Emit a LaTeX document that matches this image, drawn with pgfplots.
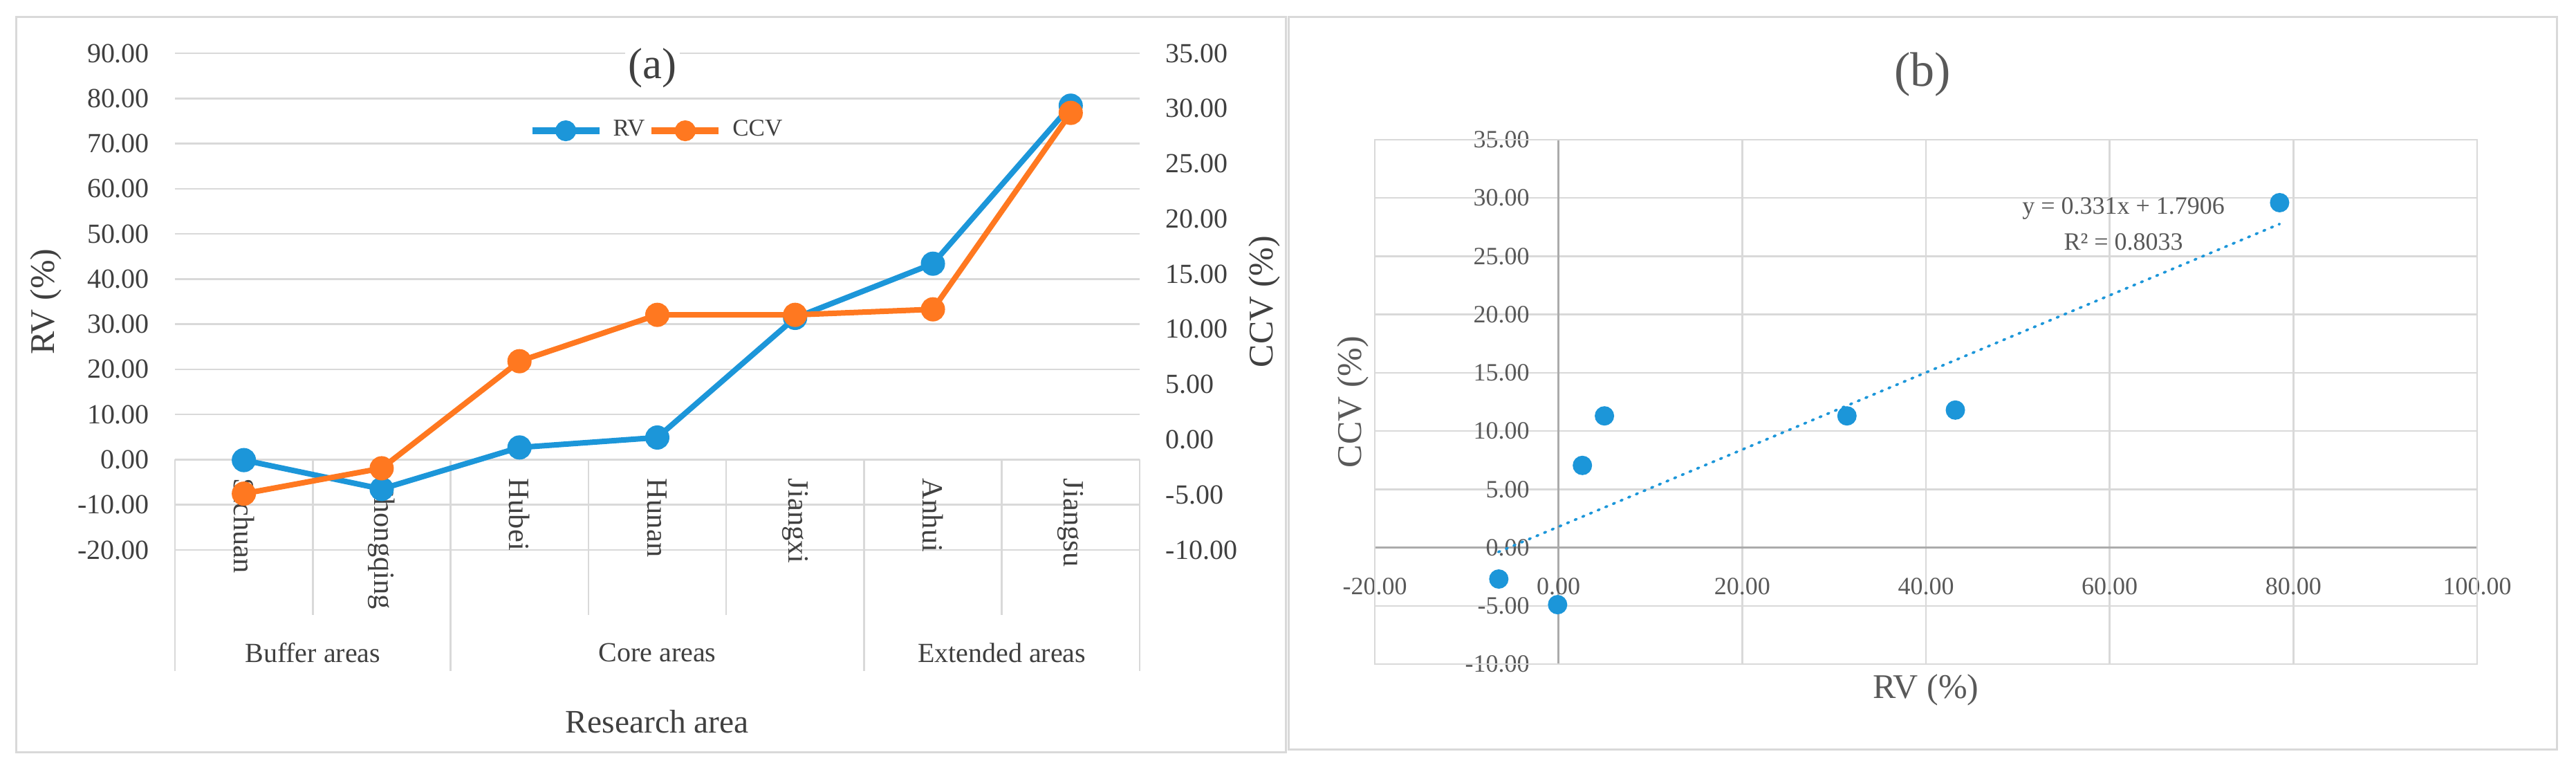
\documentclass[border=0pt]{standalone}
\usepackage{fontspec}
\setmainfont{Liberation Serif}
\usepackage{pgfplots}
\pgfplotsset{compat=1.18}

\definecolor{rvblue}{RGB}{28,150,217}
\definecolor{ccvorange}{RGB}{255,120,32}
\definecolor{gridgray}{RGB}{217,217,217}
\definecolor{zerogray}{RGB}{171,171,171}
\definecolor{txta}{RGB}{64,64,64}
\definecolor{txtb}{RGB}{89,89,89}

\newcommand{\fs}[1]{\fontsize{#1}{#1}\selectfont}

\pgfplotsset{
  numfmt/.style={
    /pgf/number format/fixed,
    /pgf/number format/fixed zerofill,
    /pgf/number format/precision=2,
    /pgf/number format/assume math mode=true},
  rvline/.style={rvblue, line width=1.6pt, mark=*, mark size=2.7pt},
  ccvline/.style={ccvorange, line width=1.6pt, mark=*, mark size=2.7pt},
}

\begin{document}
\begin{tikzpicture}
\useasboundingbox (0,0) rectangle (745pt,223pt);
% panel frames
\draw[gridgray, line width=0.6pt] (4.6pt,5.6pt) rectangle (371.8pt,218.2pt);
\draw[gridgray, line width=0.6pt] (372.6pt,6.4pt) rectangle (739.4pt,218.2pt);

% ---------- (a) left axis: RV ----------
\begin{axis}[
  at={(50.6pt,64pt)}, anchor=south west, scale only axis,
  width=279pt, height=143.6pt,
  xmin=-0.5, xmax=6.5, ymin=-20, ymax=90,
  xtick=\empty, ytick={-20,-10,...,90},
  ymajorgrids, grid style={gridgray, line width=0.5pt},
  axis line style={draw=none}, major tick length=0pt,
  numfmt,
  yticklabel style={font=\fs{8}, text=txta, inner sep=0pt, anchor=east, xshift=-7.2pt},
  clip=false,
  legend style={at={(rel axis cs:0.5,0.844)}, anchor=center, draw=none, fill=none,
    legend columns=-1, font=\fs{7}, text=txta, nodes={inner sep=1pt},
    /tikz/every odd column/.style={column sep=2pt}},
  legend image code/.code={\draw[mark repeat=2,mark phase=2,#1,line width=2pt,mark size=2pt] plot coordinates {(0pt,0pt) (9.7pt,0pt) (19.4pt,0pt)};},
]
% category labels and separators
\pgfplotsinvokeforeach{0.5,2.5,3.5,5.5}{
  \draw[gridgray, line width=0.5pt] (axis cs:#1,0) -- ([yshift=-45pt]axis cs:#1,0);
}
\pgfplotsinvokeforeach{-0.5,1.5,4.5,6.5}{
  \draw[gridgray, line width=0.5pt] (axis cs:#1,0) -- ([yshift=-61.2pt]axis cs:#1,0);
}
\node[rotate=-90, anchor=west, inner sep=0pt, font=\fs{8.5}, text=txta] at ([yshift=-5.3pt]axis cs:0,0) {Sichuan};
\node[rotate=-90, anchor=west, inner sep=0pt, font=\fs{8.5}, text=txta] at ([yshift=-5.3pt]axis cs:1,0) {Chongqing};
\node[rotate=-90, anchor=west, inner sep=0pt, font=\fs{8.5}, text=txta] at ([yshift=-5.3pt]axis cs:2,0) {Hubei};
\node[rotate=-90, anchor=west, inner sep=0pt, font=\fs{8.5}, text=txta] at ([yshift=-5.3pt]axis cs:3,0) {Hunan};
\node[rotate=-90, anchor=west, inner sep=0pt, font=\fs{8.5}, text=txta] at ([yshift=-5.3pt]axis cs:4,0) {Jiangxi};
\node[rotate=-90, anchor=west, inner sep=0pt, font=\fs{8.5}, text=txta] at ([yshift=-5.3pt]axis cs:5,0) {Anhui};
\node[rotate=-90, anchor=west, inner sep=0pt, font=\fs{8.5}, text=txta] at ([yshift=-5.3pt]axis cs:6,0) {Jiangsu};
\node[font=\fs{8}, text=txta] at ([yshift=-55.8pt]axis cs:0.5,0) {Buffer areas};
\node[font=\fs{8}, text=txta] at ([yshift=-55.8pt]axis cs:3,0) {Core areas};
\node[font=\fs{8}, text=txta] at ([yshift=-55.8pt]axis cs:5.5,0) {Extended areas};
\node[font=\fs{9.5}, text=txta] at ([yshift=-49.7pt]rel axis cs:0.5,0) {Research area};
\node[rotate=90, font=\fs{10}, text=txta] at ([xshift=-37.4pt]rel axis cs:0,0.5) {RV (\%)};
\node[font=\fs{12.6}, text=txta, fill=white, inner sep=1pt] at (rel axis cs:0.495,0.971) {(a)};

\addplot[rvline] coordinates {(0,-0.1) (1,-6.5) (2,2.7) (3,4.9) (4,31.4) (5,43.4) (6,78.4)};
\addlegendentry{RV}
\addlegendimage{ccvline}
\addlegendentry{CCV}
\end{axis}

% ---------- (a) right axis: CCV ----------
\begin{axis}[
  at={(50.6pt,64pt)}, anchor=south west, scale only axis,
  width=279pt, height=143.6pt,
  xmin=-0.5, xmax=6.5, ymin=-10, ymax=35,
  xtick=\empty, ytick={-10,-5,...,35},
  axis line style={draw=none}, major tick length=0pt,
  yticklabel pos=right,
  numfmt,
  yticklabel style={font=\fs{8}, text=txta, inner sep=0pt, anchor=west, xshift=7.4pt},
  clip=false,
]
\node[rotate=90, font=\fs{10}, text=txta] at ([xshift=36.2pt]rel axis cs:1,0.5) {CCV (\%)};
\addplot[ccvline] coordinates {(0,-4.9) (1,-2.6) (2,7.1) (3,11.3) (4,11.3) (5,11.8) (6,29.6)};
\end{axis}

% ---------- (b) scatter ----------
\begin{axis}[
  at={(397.6pt,31pt)}, anchor=south west, scale only axis,
  width=318.8pt, height=151.6pt,
  xmin=-20, xmax=100, ymin=-10, ymax=35,
  xtick={-20,0,...,100}, ytick={-10,-5,...,35},
  axis lines=middle, axis line style={-, draw=zerogray, line width=0.5pt},
  grid=major, grid style={gridgray, line width=0.5pt},
  hide obscured x ticks=false, hide obscured y ticks=false,
  major tick length=0pt,
  numfmt,
  xticklabel style={font=\fs{7.2}, text=txtb, inner sep=0pt, anchor=north, yshift=-8.6pt},
  yticklabel style={font=\fs{7.2}, text=txtb, inner sep=0pt, anchor=east, xshift=-8.2pt},
  clip=false,
]
\draw[gridgray, line width=0.5pt] (rel axis cs:0,0) rectangle (rel axis cs:1,1);
\node[font=\fs{14}, text=txtb] at ([yshift=18.8pt]rel axis cs:0.497,1) {(b)};
\node[font=\fs{10}, text=txtb] at ([yshift=-7.4pt]rel axis cs:0.5,0) {RV (\%)};
\node[rotate=90, font=\fs{10}, text=txtb] at ([xshift=-6.4pt]rel axis cs:0,0.5) {CCV (\%)};
\node[font=\fs{7.2}, text=txtb] at (axis cs:61.5,29.1) {y = 0.331x + 1.7906};
\node[font=\fs{7.2}, text=txtb] at (axis cs:61.5,26.2) {R² = 0.8033};

\addplot[rvblue, line width=0.75pt, line cap=round, dash pattern=on 0.5pt off 1.9pt] coordinates {(-6.55,-0.38) (78.5,27.77)};
\addplot[only marks, mark=*, mark size=2.6pt, rvblue] coordinates {(-0.1,-4.9) (-6.5,-2.7) (2.6,7.05) (5.0,11.3) (31.4,11.3) (43.2,11.8) (78.5,29.6)};
\end{axis}
\end{tikzpicture}
\end{document}
